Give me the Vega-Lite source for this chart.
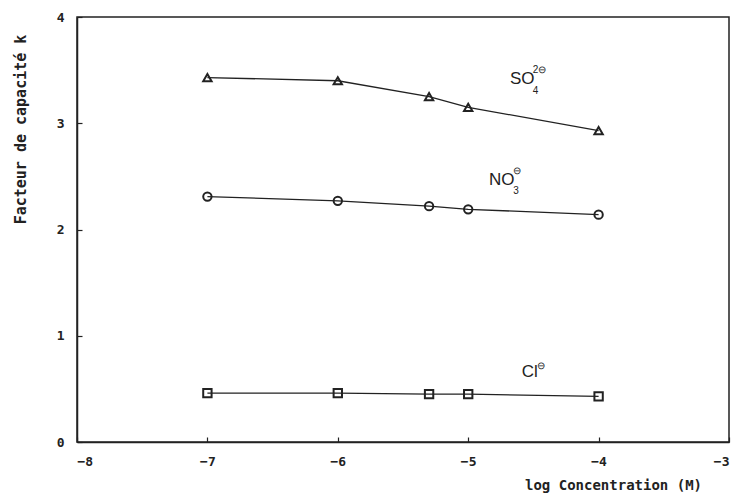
{
  "$schema": "https://vega.github.io/schema/vega-lite/v6.json",
  "width": 652,
  "height": 425,
  "autosize": "none",
  "padding": {"left": 77, "top": 17, "right": 4, "bottom": 51},
  "background": "white",
  "config": {
    "view": {"stroke": "#222", "strokeWidth": 1.5},
    "axis": {
      "grid": false,
      "domainColor": "#222",
      "domainWidth": 1.5,
      "tickColor": "#222",
      "tickWidth": 1.2,
      "labelFont": "DejaVu Sans Mono",
      "labelFontWeight": "bold",
      "labelFontSize": 13,
      "labelColor": "#222",
      "titleFont": "DejaVu Sans Mono",
      "titleFontWeight": "bold",
      "titleFontSize": 15,
      "titleColor": "#222"
    }
  },
  "datasets": {
    "pts": [
      {"ion": "SO4", "x": -7.0, "y": 3.43},
      {"ion": "SO4", "x": -6.0, "y": 3.40},
      {"ion": "SO4", "x": -5.3, "y": 3.25},
      {"ion": "SO4", "x": -5.0, "y": 3.15},
      {"ion": "SO4", "x": -4.0, "y": 2.93},
      {"ion": "NO3", "x": -7.0, "y": 2.31},
      {"ion": "NO3", "x": -6.0, "y": 2.27},
      {"ion": "NO3", "x": -5.3, "y": 2.22},
      {"ion": "NO3", "x": -5.0, "y": 2.19},
      {"ion": "NO3", "x": -4.0, "y": 2.14},
      {"ion": "Cl", "x": -7.0, "y": 0.46},
      {"ion": "Cl", "x": -6.0, "y": 0.46},
      {"ion": "Cl", "x": -5.3, "y": 0.45},
      {"ion": "Cl", "x": -5.0, "y": 0.45},
      {"ion": "Cl", "x": -4.0, "y": 0.43}
    ],
    "labels": [
      {"text": "SO", "role": "main", "x": -4.68, "y": 3.37},
      {"text": "4", "role": "script", "x": -4.505, "y": 3.28},
      {"text": "2⊖", "role": "script", "x": -4.505, "y": 3.475},
      {"text": "NO", "role": "main", "x": -4.84, "y": 2.42},
      {"text": "3", "role": "script", "x": -4.655, "y": 2.33},
      {"text": "⊖", "role": "script", "x": -4.655, "y": 2.52},
      {"text": "Cl", "role": "main", "x": -4.59, "y": 0.61},
      {"text": "⊖", "role": "script", "x": -4.47, "y": 0.69}
    ]
  },
  "layer": [
    {
      "data": {"name": "pts"},
      "mark": {"type": "line", "color": "#222", "strokeWidth": 1.3},
      "encoding": {
        "x": {
          "field": "x", "type": "quantitative",
          "scale": {"domain": [-8, -3], "nice": false, "zero": false},
          "axis": {
            "values": [-8, -7, -6, -5, -4, -3],
            "format": "d",
            "tickSize": -5,
            "labelPadding": 18,
            "title": "log Concentration (M)",
            "titleFontSize": 14,
            "titleX": 536,
            "titleY": 43,
            "titleAlign": "center",
            "titleBaseline": "middle"
          }
        },
        "y": {
          "field": "y", "type": "quantitative",
          "scale": {"domain": [0, 4], "nice": false},
          "axis": {
            "values": [0, 1, 2, 3, 4],
            "format": "d",
            "tickSize": -5,
            "labelPadding": 18,
            "title": "Facteur de capacité  k",
            "titleX": -57,
            "titleY": 112,
            "titleAngle": -90,
            "titleAlign": "center",
            "titleBaseline": "middle"
          }
        },
        "detail": {"field": "ion"}
      }
    },
    {
      "data": {"name": "pts"},
      "mark": {"type": "point", "filled": false, "color": "#222", "strokeWidth": 2, "opacity": 1},
      "encoding": {
        "x": {"field": "x", "type": "quantitative"},
        "y": {"field": "y", "type": "quantitative"},
        "shape": {
          "field": "ion", "type": "nominal",
          "scale": {"domain": ["SO4", "NO3", "Cl"], "range": ["triangle-up", "circle", "square"]},
          "legend": null
        },
        "size": {"value": 70}
      }
    },
    {
      "data": {"name": "labels"},
      "mark": {"type": "text", "font": "Liberation Sans", "color": "#222", "align": "left", "baseline": "alphabetic"},
      "encoding": {
        "x": {"field": "x", "type": "quantitative"},
        "y": {"field": "y", "type": "quantitative"},
        "text": {"field": "text"},
        "size": {
          "field": "role", "type": "nominal",
          "scale": {"domain": ["main", "script"], "range": [17, 10]},
          "legend": null
        }
      }
    }
  ]
}
